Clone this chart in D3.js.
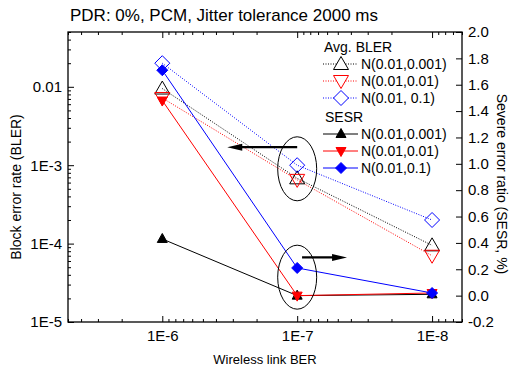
<!DOCTYPE html>
<html>
<head>
<meta charset="utf-8">
<script src="https://cdn.jsdelivr.net/npm/d3@7"></script>
<style>
  html, body { margin: 0; padding: 0; background: #fff; }
  svg { display: block; }
  text { font-family: "Liberation Sans", Arial, sans-serif; fill: #000; }
</style>
</head>
<body>
<svg id="chart" width="511" height="371"></svg>
<script>
// ---------------- data ----------------
const title = "PDR: 0%, PCM, Jitter tolerance 2000 ms";
const berValues = [1e-6, 1e-7, 1e-8];
const xTickLabels = ["1E-6", "1E-7", "1E-8"];
const yLeftTickValues = [1e-5, 1e-4, 1e-3, 1e-2];
const yLeftTickLabels = ["1E-5", "1E-4", "1E-3", "0.01"];
const yRightTickValues = [-0.2, 0.0, 0.2, 0.4, 0.6, 0.8, 1.0, 1.2, 1.4, 1.6, 1.8, 2.0];

// Avg. BLER (left axis, dotted, open markers)
const blerN001 = [0.0095, 6.8e-4, 9.5e-5];   // N(0.01,0.001)
const blerN01  = [0.0072, 6.5e-4, 7.0e-5];   // N(0.01,0.01)
const blerN1   = [0.020, 1.0e-3, 2.0e-4];    // N(0.01, 0.1)

// SESR (right axis, solid, filled markers), %
const sesrN001 = [0.43, 0.00, 0.01];
const sesrN01  = [1.48, 0.00, 0.02];
const sesrN1   = [1.71, 0.21, 0.02];

const blerNames = ["N(0.01,0.001)", "N(0.01,0.01)", "N(0.01, 0.1)"];
const sesrNames = ["N(0.01,0.001)", "N(0.01,0.01)", "N(0.01,0.1)"];

// ---------------- layout ----------------
const L = 68, R = 462, T = 32, B = 322;
const svg = d3.select("#chart");

const x = d3.scaleLog().domain([5e-6, 6e-9]).range([L, R]);
const yL = d3.scaleLog().domain([1e-5, 0.05]).range([B, T]);
const yR = d3.scaleLinear().domain([-0.2, 2.0]).range([B, T]);

const series = [
  {vals: blerN001, axis: "L", color: "#000", shape: "up",   filled: false, name: blerNames[0]},
  {vals: blerN01,  axis: "L", color: "#ff0000", shape: "down", filled: false, name: blerNames[1]},
  {vals: blerN1,   axis: "L", color: "#0000ff", shape: "diamond", filled: false, name: blerNames[2]},
  {vals: sesrN001, axis: "R", color: "#000", shape: "up",   filled: true, name: sesrNames[0]},
  {vals: sesrN01,  axis: "R", color: "#ff0000", shape: "down", filled: true, name: sesrNames[1]},
  {vals: sesrN1,   axis: "R", color: "#0000ff", shape: "diamond", filled: true, name: sesrNames[2]}
];

function shapePath(shape, filled) {
  const w = filled ? 10 : 15;
  const h = filled ? 9 : 13;
  if (shape === "up") return `M0,${-h/2 - 1}L${w/2},${h/2 - 1}L${-w/2},${h/2 - 1}Z`;
  if (shape === "down") return `M0,${h/2 + 1}L${w/2},${-h/2 + 1}L${-w/2},${-h/2 + 1}Z`;
  const d = filled ? 5.5 : 7.5;
  return `M0,${-d}L${d},0L0,${d}L${-d},0Z`;
}

// ---------------- axes ----------------
const fontTick = 15;
const majorX = berValues;
const minorX = x.ticks().filter(v => !majorX.some(m => Math.abs(m - v) / m < 1e-6));
const minorYL = yL.ticks().filter(v => !yLeftTickValues.some(m => Math.abs(m - v) / m < 1e-6));

// bottom
const gB = svg.append("g").attr("transform", `translate(0,${B})`);
gB.call(d3.axisBottom(x).tickValues(majorX).tickSize(-6).tickPadding(8)
  .tickFormat((d, i) => xTickLabels[i]));
gB.append("g").call(d3.axisBottom(x).tickValues(minorX).tickSize(-3).tickFormat(""));
// top
const gT = svg.append("g").attr("transform", `translate(0,${T})`);
gT.call(d3.axisTop(x).tickValues(majorX).tickSize(-6).tickFormat(""));
gT.append("g").call(d3.axisTop(x).tickValues(minorX).tickSize(-3).tickFormat(""));
// left
const gLft = svg.append("g").attr("transform", `translate(${L},0)`);
gLft.call(d3.axisLeft(yL).tickValues(yLeftTickValues).tickSize(-6).tickPadding(6)
  .tickFormat((d, i) => yLeftTickLabels[i]));
gLft.append("g").call(d3.axisLeft(yL).tickValues(minorYL).tickSize(-3).tickFormat(""));
// right
const gRt = svg.append("g").attr("transform", `translate(${R},0)`);
gRt.call(d3.axisRight(yR).tickValues(yRightTickValues).tickSize(-6).tickPadding(6)
  .tickFormat(d => d.toFixed(1)));

svg.selectAll(".domain").remove();
svg.selectAll(".tick line").attr("stroke", "#000").attr("stroke-width", 1);
svg.selectAll(".tick text").style("font-size", fontTick + "px")
  .style("font-family", '"Liberation Sans", Arial, sans-serif');

svg.append("rect").attr("x", L).attr("y", T).attr("width", R - L).attr("height", B - T)
  .attr("fill", "none").attr("stroke", "#000").attr("stroke-width", 1.3);

// ---------------- marks ----------------
const gData = svg.append("g");
series.forEach(s => {
  const yS = s.axis === "L" ? yL : yR;
  const line = d3.line().x((d, i) => x(berValues[i])).y(d => yS(d));
  gData.append("path").datum(s.vals).attr("d", line)
    .attr("fill", "none").attr("stroke", s.color).attr("stroke-width", 1)
    .attr("stroke-dasharray", s.filled ? null : "1,1.5");
});
series.forEach(s => {
  const yS = s.axis === "L" ? yL : yR;
  gData.selectAll(null).data(s.vals).enter().append("path")
    .attr("d", shapePath(s.shape, s.filled))
    .attr("transform", (d, i) => `translate(${x(berValues[i])},${yS(d)})`)
    .attr("fill", s.filled ? s.color : "#fff")
    .attr("fill-opacity", s.filled ? 1 : 0)
    .attr("stroke", s.color).attr("stroke-width", 1);
});

// ---------------- annotations ----------------
const ann = svg.append("g");
ann.append("ellipse").attr("cx", x(1e-7)).attr("cy", yL(9e-4)).attr("rx", 19.5).attr("ry", 32)
  .attr("fill", "none").attr("stroke", "#000").attr("stroke-width", 1);
ann.append("ellipse").attr("cx", x(1e-7)).attr("cy", yR(0.14)).attr("rx", 19.5).attr("ry", 32)
  .attr("fill", "none").attr("stroke", "#000").attr("stroke-width", 1);

function arrow(x1, y1, x2, y2) {
  const dir = Math.sign(x2 - x1);
  ann.append("line").attr("x1", x1).attr("y1", y1).attr("x2", x2 - dir * 12).attr("y2", y2)
    .attr("stroke", "#000").attr("stroke-width", 2.2);
  ann.append("path")
    .attr("d", `M${x2},${y2}L${x2 - dir * 15},${y2 - 3.5}L${x2 - dir * 15},${y2 + 3.5}Z`)
    .attr("fill", "#000");
}
arrow(x(1e-7), yL(1.7e-3), x(3.3e-7), yL(1.7e-3));
arrow(x(9.2e-8), yR(0.29), x(4.27e-8), yR(0.29));

// ---------------- legend ----------------
const lg = svg.append("g").style("font-size", "14px");
function legendGroup(header, hx, hy, rows, items) {
  lg.append("text").attr("x", hx).attr("y", hy).text(header);
  items.forEach((s, i) => {
    const cy = rows[i];
    lg.append("line").attr("x1", 323).attr("x2", 358).attr("y1", cy).attr("y2", cy)
      .attr("stroke", s.color).attr("stroke-width", 1)
      .attr("stroke-dasharray", s.filled ? null : "1,1.5");
    lg.append("path").attr("d", shapePath(s.shape, s.filled))
      .attr("transform", `translate(341,${cy})`)
      .attr("fill", s.filled ? s.color : "#fff")
      .attr("stroke", s.color).attr("stroke-width", 1);
    lg.append("text").attr("x", 361).attr("y", cy + 5).text(s.name);
  });
}
legendGroup("Avg. BLER", 324, 52, [64, 81, 98], series.slice(0, 3));
legendGroup("SESR", 325, 122, [134, 151, 168], series.slice(3));

// ---------------- titles ----------------
svg.append("text").attr("x", 70).attr("y", 21).style("font-size", "17px").text(title);
svg.append("text").attr("x", (L + R) / 2).attr("y", 364).attr("text-anchor", "middle")
  .style("font-size", "13px").text("Wireless link BER");
svg.append("text").attr("transform", `translate(21,187) rotate(-90)`)
  .attr("text-anchor", "middle").style("font-size", "14px").text("Block error rate (BLER)");
svg.append("text").attr("transform", `translate(497,184) rotate(90)`)
  .attr("text-anchor", "middle").style("font-size", "14px").text("Severe error ratio (SESR, %)");
</script>
</body>
</html>
